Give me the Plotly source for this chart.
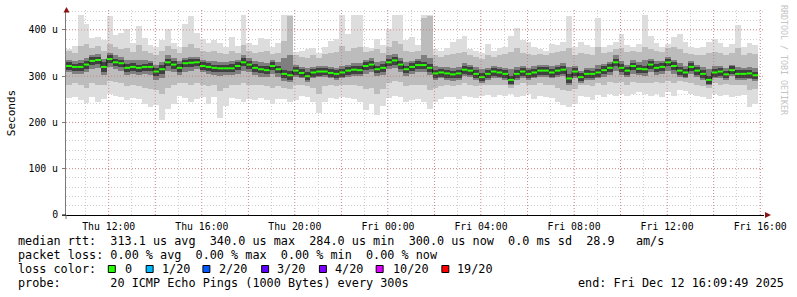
import pandas as pd
import plotly.graph_objects as go

# ---------------- data (microseconds), one value per 15-minute slot ----------------
median_us = [322,320,320,325,333,335,320,337,330,328, 318,320,318,320,320,310,315,330,325,318,
             328,329,330,322,320,318,317,317,317,322, 330,325,318,315,313,322,315,305,302,312,
             307,300,308,310,310,307,305,308,312,314, 313,322,325,315,318,330,334,325,315,320,
             324,324,318,306,308,306,304,306,314,312, 305,298,305,310,308,305,292,305,310,305,
             308,312,312,308,312,314,
             295,310,298,305,305,308,313,318,330,318, 312,322,316,315,325,318,320,330,322,312,
             308,320,312,305,292,308,310,304,313,305, 305,306,302]

max_us = [358,366,432,412,383,384,378,429,390,394, 402,372,408,382,368,362,378,401,372,363,
          412,429,394,381,372,378,371,362,384,366, 432,372,367,383,381,362,372,432,432,352,
          355,358,361,350,364,376,381,432,391,432, 432,364,360,380,368,402,432,432,378,384,
          368,432,432,358,354,360,374,381,386,358, 354,350,370,355,360,364,386,405,378,374,
          364,358,354,369,368,374,
          430,364,374,368,362,425,364,368,374,392, 368,364,370,432,386,372,364,370,384,392,
          374,364,360,364,374,380,372,362,370,411, 364,372,368]

min_us = [252,255,248,242,255,245,250,262,258,255, 248,252,250,240,234,238,205,230,240,258,
          252,245,250,255,240,255,210,236,252,250, 245,250,248,252,248,240,250,250,245,248,
          258,255,245,220,245,252,250,255,252,250, 245,227,240,216,235,252,258,255,245,248,
          250,245,230,245,250,256,255,250,258,255, 252,258,260,255,260,258,262,255,258,262,
          250,258,255,252,245,238,
          234,240,258,255,248,260,255,262,258,262, 258,262,265,262,258,262,255,265,258,270,
          268,262,258,255,250,262,258,260,255,258, 260,234,240]

mid_hi_us = [355,350,365,370,360,365,355,370,362,358, 360,352,368,355,350,345,355,365,358,350,
             362,370,360,355,352,355,350,348,355,350, 368,355,350,352,355,348,350,375,430,345,
             342,340,345,340,348,350,352,365,355,360, 362,352,355,358,350,362,375,370,355,352,
             355,425,430,345,342,345,348,350,352,345, 342,338,345,342,345,348,352,360,350,348,
             345,348,345,350,352,355,
             360,345,350,348,345,362,350,352,358,360, 352,355,352,362,358,355,352,360,362,358,
             350,348,345,345,350,352,350,345,350,360, 345,350,348]

mid_lo_us = [280,285,280,275,285,282,280,290,288,285, 278,282,278,275,272,270,262,275,280,285,
             285,282,285,282,278,282,268,275,280,282, 285,282,280,282,278,275,278,275,272,280,
             282,278,275,262,278,280,278,282,280,280, 278,272,275,262,272,285,290,288,278,280,
             282,280,270,275,278,280,278,280,285,282, 278,280,282,280,282,280,275,280,285,280,
             282,285,282,280,275,270,
             268,272,282,280,278,285,282,288,285,288, 282,288,285,285,285,288,285,290,285,290,
             288,285,282,278,275,285,282,283,282,282, 282,270,272]

quart_hi_us = [335,332,335,340,345,348,338,350,345,342, 335,335,335,335,332,325,330,345,340,332,
               340,342,342,335,332,332,330,330,332,335, 345,340,332,330,328,335,330,340,345,325,
               320,318,320,322,322,320,318,322,325,328, 328,335,340,330,332,345,348,340,330,332,
               338,345,340,322,320,320,318,320,328,325, 320,315,318,322,320,318,315,320,322,318,
               322,325,325,322,325,328,
               320,322,312,318,318,325,326,330,345,332, 325,335,330,335,338,332,332,342,335,328,
               322,332,325,320,315,322,322,318,325,320, 318,320,318]

quart_lo_us = [308,305,305,308,315,318,302,320,315,312, 302,305,302,305,302,292,295,312,308,302,
               310,312,315,308,305,302,300,302,302,305, 312,308,302,298,298,305,298,290,288,298,
               295,288,295,298,298,295,292,295,298,300, 300,305,310,300,302,315,318,310,300,305,
               308,310,302,292,295,292,290,292,300,298, 292,285,292,296,295,292,282,292,296,292,
               295,298,298,295,298,300,
               282,296,285,292,292,295,298,302,312,302, 298,305,302,300,308,302,305,312,305,298,
               295,305,298,292,282,295,296,292,300,292, 292,294,290]

core_hi_us = [330,327,329,333,341,342,331,345,338,335, 326,328,325,327,328,318,324,337,333,326,
              336,337,338,331,328,325,325,324,326,330, 339,332,326,322,321,330,323,314,311,320,
              315,309,316,318,317,315,313,316,320,322, 321,330,333,323,326,338,341,333,323,328,
              332,331,326,314,316,313,312,314,322,320, 313,306,313,317,316,313,301,313,318,313,
              316,320,319,316,320,322,
              304,318,306,313,312,316,321,326,337,326, 320,329,324,323,333,326,328,338,330,320,
              316,328,320,313,301,316,318,312,321,313, 313,314,310]

core_lo_us = [314,312,311,316,324,326,309,328,321,319, 309,311,309,312,311,300,305,321,316,309,
              319,320,321,313,311,309,308,308,309,313, 321,316,309,306,304,313,306,295,292,303,
              298,291,299,301,302,298,296,299,303,305, 304,313,316,306,309,321,325,316,306,311,
              315,315,309,297,299,297,295,297,305,303, 296,289,296,301,299,296,283,296,301,296,
              299,303,303,299,303,305,
              286,301,289,296,297,299,304,309,321,309, 303,313,307,306,316,309,311,321,313,303,
              299,311,303,296,283,299,301,295,304,296, 296,297,293]

x_tick_labels = ["Thu 12:00", "Thu 16:00", "Thu 20:00", "Fri 00:00",
                 "Fri 04:00", "Fri 08:00", "Fri 12:00", "Fri 16:00"]
y_tick_values = [0, 100, 200, 300, 400]
y_tick_labels = ["0", "100 u", "200 u", "300 u", "400 u"]

legend_lines = [
    "median rtt:  313.1 us avg  340.0 us max  284.0 us min  300.0 us now  0.0 ms sd  28.9   am/s",
    "packet loss: 0.00 % avg  0.00 % max  0.00 % min  0.00 % now",
    "loss color:",
    "probe:       20 ICMP Echo Pings (1000 Bytes) every 300s",
]
end_text = "end: Fri Dec 12 16:09:49 2025"
loss_labels = ["0", "1/20", "2/20", "3/20", "4/20", "10/20", "19/20"]
loss_colors = ["#26ff00", "#00b8ff", "#0059ff", "#5e00ff", "#7e00ff", "#dd00ff", "#ff0000"]

# ---------------- geometry helpers (pixel -> paper) ----------------
W, H = 797, 297
L, R, T, B = 66, 30, 10, 82
PW, PH = W - L - R, H - T - B


def px(x):
    return (x - L) / PW


def py(y):
    return (H - B - y) / PH


# ---------------- figure ----------------
start = pd.Timestamp("2025-12-11 10:10:00")
slot = pd.Timedelta(minutes=15)
n = len(median_us)
times = [start + slot * k + slot / 2 for k in range(n)]
slot_ms = slot.total_seconds() * 1000

fig = go.Figure()


def band(lo, hi, color):
    fig.add_trace(go.Bar(
        x=times, base=lo, y=[h - l for h, l in zip(hi, lo)], width=slot_ms,
        marker=dict(color=color, line=dict(width=0)), hoverinfo="skip"))


band(min_us, max_us, "#dddddd")
band(mid_lo_us, mid_hi_us, "#bcbcbc")
band(quart_lo_us, quart_hi_us, "#7f7f7f")
band(core_lo_us, core_hi_us, "#404040")

# dark step connectors of the median
fig.add_trace(go.Scatter(x=times, y=median_us, mode="lines",
                         line=dict(color="#1a1a1a", width=1, shape="hvh"),
                         hoverinfo="skip"))
# green median segments (loss 0)
gx, gy = [], []
for k in range(n):
    gx += [start + slot * k, start + slot * (k + 1), None]
    gy += [median_us[k], median_us[k], None]
fig.add_trace(go.Scatter(x=gx, y=gy, mode="lines",
                         line=dict(color=loss_colors[0], width=2),
                         hoverinfo="skip"))

major_ticks = list(pd.date_range("2025-12-11 12:00", periods=15, freq="2h"))
major_text = [x_tick_labels[i // 2] if i % 2 == 0 else "" for i in range(len(major_ticks))]

mono = "DejaVu Sans Mono"
fig.update_layout(
    width=W, height=H, margin=dict(l=L, r=R, t=T, b=B),
    paper_bgcolor="white", plot_bgcolor="white",
    showlegend=False, barmode="overlay", bargap=0, hovermode=False,
    font=dict(family=mono, size=10, color="black"),
    xaxis=dict(
        type="date", range=["2025-12-11 10:09:49", "2025-12-12 16:09:49"],
        tickvals=major_ticks, ticktext=major_text,
        showgrid=False,
        minor=dict(dtick=3600000, tick0="2025-12-11 00:00", showgrid=True,
                   gridcolor="#cfcfcf", griddash="1px,2px", gridwidth=1),
        showline=True, linecolor="black", linewidth=1, ticks="",
        zeroline=False, tickfont=dict(family=mono, size=9.8, color="black"),
        ticklabelstandoff=2,
    ),
    yaxis=dict(
        range=[0, 443], tickvals=y_tick_values, ticktext=y_tick_labels,
        showgrid=False,
        minor=dict(dtick=20, tick0=0, showgrid=True, gridcolor="#cfcfcf",
                   griddash="1px,2px", gridwidth=1),
        showline=True, linecolor="#7a7a7a", linewidth=1,
        ticks="outside", ticklen=3, tickcolor="#7a7a7a",
        zeroline=False, tickfont=dict(family=mono, size=9.8, color="black"),
        ticklabelstandoff=2,
    ),
)

shapes = []
grid_red = "rgba(209,69,69,0.5)"
# major grid drawn over the smoke, as rrdtool does
for v in y_tick_values[1:]:
    shapes.append(dict(type="line", xref="paper", yref="y", x0=0, x1=1, y0=v, y1=v,
                       layer="above", line=dict(color=grid_red, width=1, dash="1px,2px")))
for t in major_ticks:
    shapes.append(dict(type="line", xref="x", yref="paper", x0=t, x1=t, y0=0, y1=1,
                       layer="above", line=dict(color=grid_red, width=1, dash="1px,2px")))
# axis arrows
shapes.append(dict(type="path", xref="paper", yref="paper",
                   path=f"M {px(768)},{py(212)} L {px(774)},{py(215)} L {px(768)},{py(218)} Z",
                   fillcolor="#8b1515", line=dict(width=0)))
shapes.append(dict(type="path", xref="paper", yref="paper",
                   path=f"M {px(63.5)},{py(12.5)} L {px(66.5)},{py(7)} L {px(69.5)},{py(12.5)} Z",
                   fillcolor="#8b1515", line=dict(width=0)))
# axis stubs
shapes.append(dict(type="line", xref="paper", yref="paper", x0=px(62), x1=px(66), y0=py(215), y1=py(215),
                   line=dict(color="black", width=1)))
shapes.append(dict(type="line", xref="paper", yref="paper", x0=px(66), x1=px(66), y0=py(215), y1=py(219),
                   line=dict(color="#7a7a7a", width=1)))

annotations = []


def nb(s):
    return s.replace(" ", "\u00a0")


line_y = [241, 255, 269, 283]
for txt, yy in zip(legend_lines, line_y):
    annotations.append(dict(text=nb(txt), xref="paper", yref="paper", x=px(16), y=py(yy),
                            xanchor="left", yanchor="middle", showarrow=False,
                            font=dict(family=mono, size=11.8, color="black")))
annotations.append(dict(text=nb(end_text), xref="paper", yref="paper", x=px(578), y=py(283),
                        xanchor="left", yanchor="middle", showarrow=False,
                        font=dict(family=mono, size=11.8, color="black")))

sq_left = [108, 146, 203, 262, 320, 377, 443]
lbl_left = [123, 160, 218, 276, 334, 392, 457]
for c, lab, sx, lx in zip(loss_colors, loss_labels, sq_left, lbl_left):
    shapes.append(dict(type="rect", xref="paper", yref="paper",
                       x0=px(sx + 0.5), x1=px(sx + 7.5), y0=py(265.5), y1=py(272.5),
                       fillcolor=c, line=dict(color="black", width=1)))
    annotations.append(dict(text=lab, xref="paper", yref="paper", x=px(lx), y=py(269),
                            xanchor="left", yanchor="middle", showarrow=False,
                            font=dict(family=mono, size=11.8, color="black")))

annotations.append(dict(text="Seconds", xref="paper", yref="paper", x=px(11), y=py(113),
                        xanchor="center", yanchor="middle", textangle=-90, showarrow=False,
                        font=dict(family=mono, size=11, color="black")))
annotations.append(dict(text=nb("RRDTOOL / TOBI OETIKER"), xref="paper", yref="paper",
                        x=px(787), y=py(60), xanchor="center", yanchor="middle",
                        textangle=90, showarrow=False,
                        font=dict(family=mono, size=8.3, color="#c4c4c4")))

fig.update_layout(shapes=shapes, annotations=annotations)
fig.write_html("out.html")
